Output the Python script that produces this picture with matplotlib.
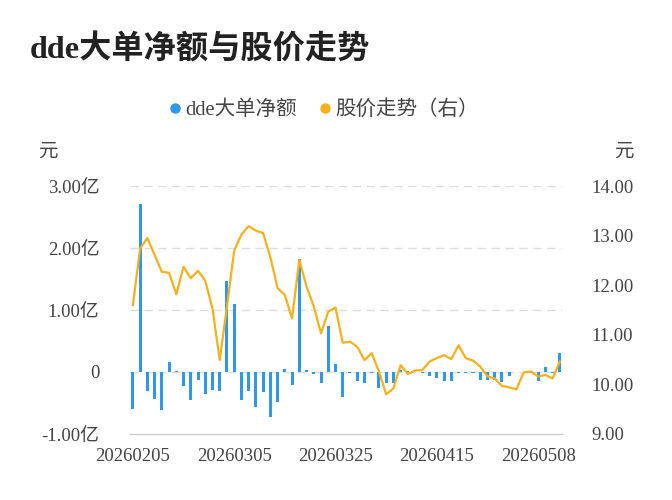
import matplotlib
matplotlib.use("Agg")
import matplotlib.pyplot as plt
from matplotlib.lines import Line2D

plt.rcParams['font.family'] = ['Liberation Serif', 'Noto Sans CJK SC', 'DejaVu Sans']

dates = ["20260205", "20260206", "20260209", "20260210", "20260211", "20260212", "20260213",
         "20260224", "20260225", "20260226", "20260227",
         "20260302", "20260303", "20260304", "20260305", "20260306",
         "20260309", "20260310", "20260311", "20260312", "20260313",
         "20260316", "20260317", "20260318", "20260319", "20260320",
         "20260323", "20260324", "20260325", "20260326", "20260327",
         "20260330", "20260331", "20260401", "20260402", "20260403",
         "20260407", "20260408", "20260409", "20260410",
         "20260413", "20260414", "20260415", "20260416", "20260417",
         "20260420", "20260421", "20260422", "20260423", "20260424",
         "20260427", "20260428", "20260429", "20260430",
         "20260506", "20260507", "20260508", "20260511", "20260512", "20260513"]

dde_net = [-0.59, 2.71, -0.30, -0.44, -0.61, 0.16, 0.02, -0.23, -0.45, -0.13,
           -0.36, -0.29, -0.31, 1.46, 1.10, -0.45, -0.30, -0.56, -0.33, -0.73,
           -0.48, 0.05, -0.21, 1.83, 0.04, -0.03, -0.18, 0.74, 0.13, -0.41,
           -0.02, -0.14, -0.17, -0.02, -0.26, -0.18, -0.17, 0.03, 0.01, 0.0,
           -0.02, -0.06, -0.09, -0.14, -0.14, -0.01, -0.01, -0.02, -0.13, -0.13,
           -0.13, -0.16, -0.07, 0.0, 0.0, -0.02, -0.15, 0.08, -0.01, 0.31]

price = [11.60, 12.74, 12.95, 12.61, 12.27, 12.25, 11.82, 12.37, 12.14, 12.29,
         12.09, 11.53, 10.49, 11.57, 12.70, 13.02, 13.19, 13.10, 13.05, 12.56,
         11.94, 11.80, 11.33, 12.51, 11.97, 11.57, 11.03, 11.47, 11.55, 10.84,
         10.86, 10.76, 10.49, 10.63, 10.26, 9.80, 9.92, 10.39, 10.21, 10.28,
         10.29, 10.46, 10.53, 10.59, 10.51, 10.79, 10.53, 10.48, 10.36, 10.16,
         10.12, 9.97, 9.94, 9.90, 10.24, 10.26, 10.16, 10.19, 10.12, 10.46]

left_ticks = [3, 2, 1, 0, -1]
left_labels = ["3.00亿", "2.00亿", "1.00亿", "0", "-1.00亿"]
right_ticks = [14, 13, 12, 11, 10, 9]
right_labels = ["14.00", "13.00", "12.00", "11.00", "10.00", "9.00"]

title = "dde大单净额与股价走势"
bar_name = "dde大单净额"
line_name = "股价走势（右）"

BLUE = "#2f98ea"
ORANGE = "#f4b11c"
TXT = "#444444"

fig = plt.figure(figsize=(6.72, 5.0), dpi=100)
ax = fig.add_axes([130/672, 1-434/500, (562-130)/672, (434-186)/500])
x = list(range(len(dates)))

ax.bar(x, dde_net, width=0.42, color=BLUE, zorder=3)
ax.set_ylim(-1, 3)
ax.set_xlim(-0.4, len(dates) - 0.7)
ax.set_yticks(left_ticks)
ax.set_yticklabels(left_labels)
for yv in [3, 2, 1, 0]:
    ax.axhline(yv, color="#dddddd", lw=1.0, ls=(0, (6, 4)), zorder=1)
for s in ["top", "right", "left"]:
    ax.spines[s].set_visible(False)
ax.spines["bottom"].set_color("#cccccc")
ax.spines["bottom"].set_linewidth(1.0)
ax.tick_params(axis="y", length=0, pad=22, labelsize=13.5, labelcolor=TXT)
ax.tick_params(axis="x", length=0, pad=10, labelsize=13.5, labelcolor=TXT)
ax.set_xticks(x[::14])
ax.set_xticklabels(dates[::14])

ax2 = ax.twinx()
ax2.plot(x, price, color=ORANGE, lw=1.6, zorder=4)
ax2.set_ylim(9, 14)
ax2.set_yticks(right_ticks)
ax2.set_yticklabels(right_labels)
ax2.tick_params(axis="y", length=0, pad=21, labelsize=13.5, labelcolor=TXT)
for s in ["top", "right", "left", "bottom"]:
    ax2.spines[s].set_visible(False)
ax2.set_xlim(ax.get_xlim())

fig.text(30/672, 1-50/500, title, fontsize=23.2, fontweight="bold", color="#222222",
         ha="left", va="center")
fig.text(48/672, 1-152/500, "元", fontsize=14, color=TXT, ha="center", va="center")
fig.text(624/672, 1-152/500, "元", fontsize=14, color=TXT, ha="center", va="center")

handles = [Line2D([], [], ls="none", marker="o", markersize=6.5, color=BLUE),
           Line2D([], [], ls="none", marker="o", markersize=6.5, color=ORANGE)]
fig.legend(handles, [bar_name, line_name], loc="center", bbox_to_anchor=(322/672, 1-110/500),
           ncol=2, frameon=False, fontsize=14.8, handletextpad=0.05, columnspacing=0.9,
           labelcolor=TXT, handlelength=0.9)

fig.savefig("out.png", dpi=100)
